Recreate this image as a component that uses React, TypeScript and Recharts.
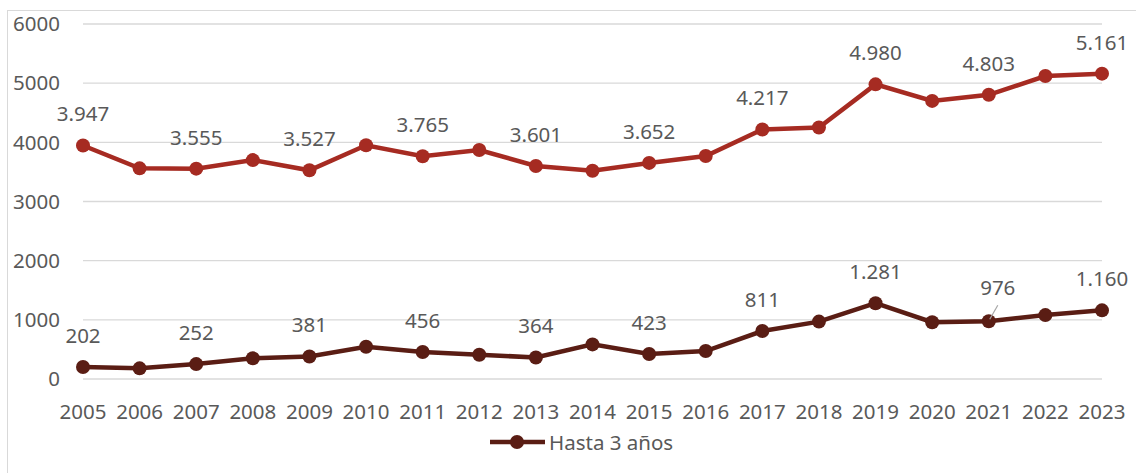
import { LineChart, Line, XAxis, YAxis, CartesianGrid, Legend, LabelList } from 'recharts'

const years = [
  '2005', '2006', '2007', '2008', '2009', '2010', '2011', '2012', '2013', '2014',
  '2015', '2016', '2017', '2018', '2019', '2020', '2021', '2022', '2023',
]
const totalValues = [
  3947, 3560, 3555, 3700, 3527, 3950, 3765, 3870, 3601, 3520,
  3652, 3770, 4217, 4250, 4980, 4700, 4803, 5120, 5161,
]
const hastaTresValues = [
  202, 180, 252, 350, 381, 545, 456, 410, 364, 585,
  423, 473, 811, 970, 1281, 960, 976, 1080, 1160,
]
const yTicks = [0, 1000, 2000, 3000, 4000, 5000, 6000]
const legendLabel = 'Hasta 3 años'

const data = years.map((year, i) => ({
  year,
  total: totalValues[i],
  hasta3: hastaTresValues[i],
}))

const RED = '#A62B22'
const DARK = '#5A1D14'
const TEXT = '#595959'
const GRID = '#D9D9D9'
const FONT = '"Noto Sans", sans-serif'
const FS = 20.5

function fmt(v: number) {
  return v.toLocaleString('de-DE')
}

// labels only on every other point, like the source
function PointLabel(props: any) {
  const { x, y, value, index } = props
  if (index % 2 !== 0) return null
  const leader = years[index] === '2021' && value < 2000
  const dx = leader ? 9 : 0
  const dy = leader ? -34 : -32
  return (
    <g>
      {leader && <line x1={x + 9} y1={y - 16} x2={x + 1} y2={y - 2} stroke="#A6A6A6" strokeWidth={1.2} />}
      <text x={x + dx} y={y + dy} textAnchor="middle" dominantBaseline="central" fill={TEXT} fontSize={FS} fontFamily={FONT}>
        {fmt(value)}
      </text>
    </g>
  )
}

function LegendContent() {
  return (
    <div style={{ position: 'relative', width: 1136, height: 24, fontFamily: FONT }}>
      <svg width={60} height={24} style={{ position: 'absolute', left: 488, top: 0 }}>
        <line x1={2} y1={12} x2={57} y2={12} stroke={DARK} strokeWidth={4.5} />
        <circle cx={29} cy={12} r={7} fill={DARK} />
      </svg>
      <span style={{ position: 'absolute', left: 549, top: -2, fontSize: FS, color: TEXT, whiteSpace: 'nowrap', lineHeight: '28px' }}>
        {legendLabel}
      </span>
    </div>
  )
}

export default function App() {
  return (
    <div style={{ position: 'fixed', left: 0, top: 0, width: 1136, height: 473, overflow: 'hidden', background: '#fff' }}>
      <div
        style={{
          position: 'absolute', left: 7, top: 10, width: 1300, height: 600,
          borderLeft: `1.5px solid ${GRID}`, borderTop: `1.5px solid ${GRID}`,
        }}
      />
      <LineChart
        width={1136}
        height={473}
        data={data}
        margin={{ top: 24, right: 34, bottom: 19, left: 0 }}
        style={{ position: 'absolute', left: 0, top: 0 }}
      >
        <CartesianGrid vertical={false} stroke={GRID} strokeWidth={1.3} />
        <XAxis
          dataKey="year"
          scale="point"
          padding={{ left: 0, right: 0 }}
          axisLine={false}
          tickLine={false}
          tickSize={0}
          tickMargin={25}
          height={51}
          interval={0}
          tick={{ fill: TEXT, fontSize: FS, fontFamily: FONT }}
        />
        <YAxis
          domain={[0, 6000]}
          ticks={yTicks}
          axisLine={false}
          tickLine={false}
          tickSize={0}
          tickMargin={23}
          width={83}
          tick={{ fill: TEXT, fontSize: FS, fontFamily: FONT }}
        />
        <Legend verticalAlign="bottom" height={24} content={<LegendContent />} wrapperStyle={{ left: 0, width: 1136 }} />
        <Line
          dataKey="total"
          stroke={RED}
          strokeWidth={4.5}
          dot={{ r: 7, fill: RED, stroke: RED, strokeWidth: 0 }}
          legendType="none"
          isAnimationActive={false}
        >
          <LabelList dataKey="total" content={<PointLabel />} />
        </Line>
        <Line
          dataKey="hasta3"
          name={legendLabel}
          stroke={DARK}
          strokeWidth={4.5}
          dot={{ r: 7, fill: DARK, stroke: DARK, strokeWidth: 0 }}
          isAnimationActive={false}
        >
          <LabelList dataKey="hasta3" content={<PointLabel />} />
        </Line>
      </LineChart>
    </div>
  )
}
